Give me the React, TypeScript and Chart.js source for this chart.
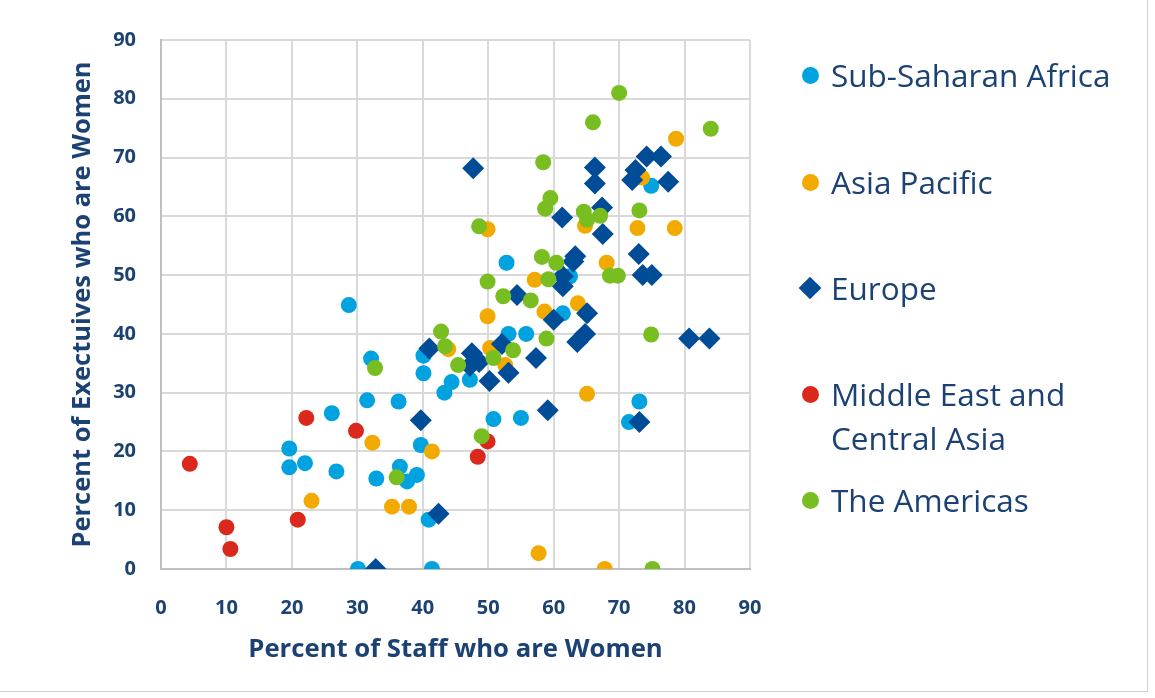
import React, { useEffect, useRef } from "react";
import { Chart, registerables } from "chart.js";

Chart.register(...registerables);

// ---------- Data ----------
const seriesNames = [
  "Sub-Saharan Africa",
  "Asia Pacific",
  "Europe",
  "Middle East and Central Asia",
  "The Americas",
];

const axisTicks = [0, 10, 20, 30, 40, 50, 60, 70, 80, 90];

const xTitle = "Percent of Staff who are Women";
const yTitle = "Percent of Exectuives who are Women";

// [percent staff women, percent executives women]
const subSaharanAfrica: [number, number][] = [
  [28.7, 44.9], [19.6, 20.5], [19.6, 17.3], [22.0, 18.0], [26.1, 26.5],
  [26.8, 16.6], [31.5, 28.7], [32.1, 35.8], [32.9, 15.4], [36.3, 28.5],
  [36.5, 17.4], [37.6, 14.9], [39.1, 16.0], [39.7, 21.1], [40.1, 36.3],
  [40.1, 33.3], [43.3, 30.0], [44.4, 31.8], [47.2, 32.2], [40.9, 8.4],
  [30.1, 0], [41.4, 0], [50.8, 25.5], [55.0, 25.7], [53.1, 40.0],
  [55.8, 40.0], [52.8, 52.1], [61.4, 43.5], [62.5, 49.8], [74.9, 65.2],
  [73.1, 28.5], [71.5, 25.0],
];

const asiaPacific: [number, number][] = [
  [78.7, 73.2], [73.5, 66.6], [72.8, 58.0], [78.5, 58.0], [49.9, 57.8],
  [64.8, 58.4], [68.1, 52.1], [57.1, 49.2], [49.9, 43.0], [58.6, 43.8],
  [63.7, 45.2], [43.9, 37.4], [50.3, 37.6], [52.6, 34.7], [65.1, 29.8],
  [32.3, 21.5], [41.4, 20.0], [23.0, 11.6], [35.3, 10.6], [37.9, 10.6],
  [57.7, 2.7], [67.8, 0],
];

const europe: [number, number][] = [
  [47.7, 68.2], [66.3, 68.3], [66.3, 65.6], [74.2, 70.2], [76.4, 70.2],
  [72.5, 67.9], [72.0, 66.2], [77.5, 65.9], [67.4, 61.5], [61.3, 59.8],
  [67.5, 57.0], [73.0, 53.6], [63.3, 53.2], [63.0, 52.3], [61.4, 49.8],
  [61.4, 48.1], [73.6, 50.0], [75.0, 50.0], [54.4, 46.6], [60.0, 42.4],
  [65.1, 43.5], [64.8, 40.0], [63.6, 38.6], [80.7, 39.2], [83.8, 39.2],
  [52.1, 38.3], [57.3, 35.9], [47.5, 36.7], [47.2, 34.6], [48.6, 35.2],
  [53.1, 33.4], [50.2, 32.0], [41.0, 37.5], [39.7, 25.3], [59.1, 27.0],
  [73.1, 25.0], [42.4, 9.4], [32.8, 0],
];

const middleEastCentralAsia: [number, number][] = [
  [4.4, 17.9], [10.0, 7.1], [10.6, 3.4], [20.9, 8.4], [22.2, 25.7],
  [29.8, 23.5], [49.9, 21.7], [48.4, 19.1],
];

const theAmericas: [number, number][] = [
  [70.0, 81.0], [66.0, 76.0], [84.0, 74.9], [58.4, 69.2], [59.5, 63.1],
  [58.7, 61.3], [64.6, 60.8], [65.1, 59.4], [67.1, 60.1], [73.1, 61.0],
  [48.6, 58.3], [58.2, 53.1], [60.4, 52.1], [68.6, 49.9], [69.8, 49.9],
  [59.2, 49.3], [49.9, 48.9], [52.3, 46.4], [56.5, 45.7], [42.8, 40.4],
  [43.4, 37.9], [45.4, 34.7], [32.7, 34.2], [50.8, 35.9], [53.8, 37.2],
  [58.9, 39.2], [74.9, 39.9], [49.0, 22.6], [36.0, 15.6], [75.1, 0],
];

// ---------- Styles ----------
const seriesColors = ["#00A3E0", "#F2A900", "#004C97", "#DA291C", "#78BE21"];
const seriesStyles = ["circle", "circle", "rectRot", "circle", "circle"];
const textColor = "#1B4272";
const fontFamily = "'Open Sans', 'DejaVu Sans', sans-serif";

const legendRows = [
  { name: seriesNames[0], lines: ["Sub-Saharan Africa"], center: 75 },
  { name: seriesNames[1], lines: ["Asia Pacific"], center: 182 },
  { name: seriesNames[2], lines: ["Europe"], center: 288 },
  { name: seriesNames[3], lines: ["Middle East and", "Central Asia"], center: 394 },
  { name: seriesNames[4], lines: ["The Americas"], center: 500 },
];

export default function App() {
  const canvasRef = useRef<HTMLCanvasElement | null>(null);

  useEffect(() => {
    const canvas = canvasRef.current;
    if (!canvas) return;
    const allData = [subSaharanAfrica, asiaPacific, europe, middleEastCentralAsia, theAmericas];
    const chart = new Chart(canvas, {
      type: "scatter",
      data: {
        datasets: allData.map((pts, i) => ({
          label: seriesNames[i],
          data: pts.map(([x, y]) => ({ x, y })),
          backgroundColor: seriesColors[i],
          borderColor: seriesColors[i],
          borderWidth: 0,
          pointStyle: seriesStyles[i] as any,
          pointRadius: seriesStyles[i] === "rectRot" ? 11 : 8,
          order: allData.length - i,
        })),
      },
      options: {
        animation: false,
        responsive: false,
        maintainAspectRatio: false,
        layout: { padding: { left: 60, top: 40, right: 405, bottom: 30 } },
        plugins: { legend: { display: false }, tooltip: { enabled: false } },
        scales: {
          x: {
            type: "linear",
            min: 0,
            max: 90,
            afterBuildTicks: (s: any) => {
              s.ticks = axisTicks.map((v) => ({ value: v }));
            },
            afterFit: (s: any) => {
              s.height = 99;
            },
            ticks: {
              padding: 27,
              color: textColor,
              font: { family: fontFamily, size: 20, weight: "bold" },
            },
            grid: { color: "#D9D9D9", lineWidth: 2, drawTicks: false },
            border: { color: "#BFBFBF", width: 2 },
            title: {
              display: true,
              text: xTitle,
              color: textColor,
              font: { family: fontFamily, size: 25.7, weight: "bold" },
              padding: { top: 0, bottom: 3 },
            },
          },
          y: {
            type: "linear",
            min: 0,
            max: 90,
            afterBuildTicks: (s: any) => {
              s.ticks = axisTicks.map((v) => ({ value: v }));
            },
            afterFit: (s: any) => {
              s.width = 101;
            },
            ticks: {
              padding: 25,
              color: textColor,
              font: { family: fontFamily, size: 20, weight: "bold" },
            },
            grid: { color: "#D9D9D9", lineWidth: 2, drawTicks: false },
            border: { color: "#BFBFBF", width: 2 },
            title: {
              display: true,
              text: yTitle,
              color: textColor,
              font: { family: fontFamily, size: 25.5, weight: "bold" },
              padding: { top: 7, bottom: 0 },
            },
          },
        },
      },
    });
    return () => chart.destroy();
  }, []);

  return (
    <div
      style={{
        position: "fixed",
        left: 0,
        top: 0,
        width: 1155,
        height: 698,
        background: "#FFFFFF",
        overflow: "hidden",
      }}
    >
      <canvas ref={canvasRef} width={1155} height={698} style={{ position: "absolute", left: 0, top: 0 }} />
      <div
        style={{
          position: "absolute",
          left: 0,
          top: 0,
          width: 1147,
          height: 691,
          borderRight: "1px solid #D0D0D0",
          borderBottom: "1px solid #D0D0D0",
          pointerEvents: "none",
        }}
      />
      {legendRows.map((row, i) => (
        <div key={row.name}>
          <div
            style={{
              position: "absolute",
              left: seriesStyles[i] === "rectRot" ? 810 - 8 : 810 - 8.5,
              top: seriesStyles[i] === "rectRot" ? row.center - 8 : row.center - 8.5,
              width: seriesStyles[i] === "rectRot" ? 16 : 17,
              height: seriesStyles[i] === "rectRot" ? 16 : 17,
              borderRadius: seriesStyles[i] === "rectRot" ? 0 : "50%",
              transform: seriesStyles[i] === "rectRot" ? "rotate(45deg)" : undefined,
              background: seriesColors[i],
            }}
          />
          <div
            style={{
              position: "absolute",
              left: 831,
              top: row.center - 22,
              fontFamily,
              fontSize: 31.5,
              lineHeight: "44px",
              color: textColor,
              whiteSpace: "nowrap",
            }}
          >
            {row.lines.map((l) => (
              <div key={l}>{l}</div>
            ))}
          </div>
        </div>
      ))}
    </div>
  );
}
